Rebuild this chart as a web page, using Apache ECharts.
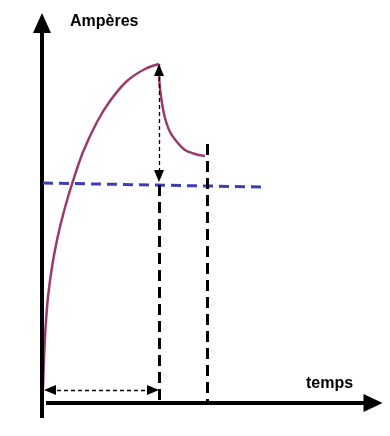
<!DOCTYPE html>
<html>
<head>
<meta charset="utf-8">
<script src="https://cdn.jsdelivr.net/npm/echarts@6/dist/echarts.min.js"></script>
<style>html,body{margin:0;padding:0;background:#fff;}#c{width:390px;height:436px;}</style>
</head>
<body>
<div id="c"></div>
<script>
// Rising current (time, amperes) – arbitrary units
const riseT = [1, 1.5, 2, 3, 4, 6, 10, 15, 21, 26, 30, 41, 55, 68, 85, 103, 117];
const riseA = [15, 30, 44, 66, 82, 106, 136, 163, 188, 206, 219, 251, 281, 302, 322, 334, 339];
// Decaying current after the peak
const decayT = [117, 117.5, 120, 123, 128, 135, 143, 153, 163];
const decayA = [339, 320, 300, 285, 271, 261, 253, 249, 247];
// Blue dashed reference level (start, end)
const levelT = [1, 220];
const levelA = [220, 216];
// Vertical dashed markers: time, top value
const markT = [117, 165];
const markTop = [218, 259];
// Double arrows (line ends, arrowheads centred on them)
const peakArrowT = 117, peakArrowA = [333, 227];
const durArrowA = 13, durArrowT = [8, 111];
// Axis extents
const yAxisRange = [-15, 380];
const xAxisRange = [4, 331];
const axisTitles = ['Ampères', 'temps'];

const purple = '#9b3a6c';
const blue = '#3a3eb0';

const zip = (a, b) => a.map((v, i) => [v, b[i]]);

const arrowEnd = (coord, size) => ({coord, symbol: 'triangle', symbolSize: size});
const plainEnd = (coord) => ({coord, symbol: 'none'});

const markLines = [
  // y axis
  [plainEnd([0, yAxisRange[0]]), arrowEnd([0, yAxisRange[1]], [18, 20])],
  // x axis
  [plainEnd([xAxisRange[0], 0]), arrowEnd([xAxisRange[1], 0], [18, 19])],
  // blue dashed level
  [plainEnd([levelT[0], levelA[0]]), plainEnd([levelT[1], levelA[1]])],
  // vertical dashed lines
  [plainEnd([markT[0], markTop[0]]), plainEnd([markT[0], 0])],
  [plainEnd([markT[1], markTop[1]]), plainEnd([markT[1], 0])],
  // peak double arrow
  [arrowEnd([peakArrowT, peakArrowA[0]], [10, 12]), arrowEnd([peakArrowT, peakArrowA[1]], [10, 12])],
  // duration double arrow
  [arrowEnd([durArrowT[0], durArrowA], [10, 12]), arrowEnd([durArrowT[1], durArrowA], [10, 12])]
];
const styles = [
  {color: '#000', width: 4, type: 'solid'},
  {color: '#000', width: 4, type: 'solid'},
  {color: blue, width: 3, type: [10, 6]},
  {color: '#000', width: 3, type: [11, 6]},
  {color: '#000', width: 3, type: [11, 6]},
  {color: '#000', width: 1.3, type: [4, 3]},
  {color: '#000', width: 1.3, type: [4, 3]}
];
markLines.forEach((m, i) => { m[0].lineStyle = styles[i]; });

const chart = echarts.init(document.getElementById('c'), null, {renderer: 'canvas'});
chart.setOption({
  animation: false,
  grid: {left: 0, right: 0, top: 0, bottom: 0},
  xAxis: {type: 'value', min: -42, max: 348, show: false},
  yAxis: {type: 'value', min: -33, max: 403, show: false},
  series: [
    {
      type: 'line', data: [], silent: true,
      markLine: {
        silent: true, animation: false,
        label: {show: false},
        emphasis: {disabled: true},
        data: markLines
      }
    },
    {
      type: 'line', data: zip(riseT, riseA), smooth: 0.35, symbol: 'none', silent: true,
      lineStyle: {color: purple, width: 2.5}
    },
    {
      type: 'line', data: zip(decayT, decayA), smooth: 0.3, symbol: 'none', silent: true,
      lineStyle: {color: purple, width: 2.5}
    }
  ],
  graphic: [
    {type: 'text', left: 70, top: 14, style: {text: axisTitles[0], font: 'bold 16px "Liberation Sans", Arial, sans-serif', fill: '#000'}},
    {type: 'text', left: 306, top: 376, style: {text: axisTitles[1], font: 'bold 16px "Liberation Sans", Arial, sans-serif', fill: '#000'}}
  ]
});
</script>
</body>
</html>
